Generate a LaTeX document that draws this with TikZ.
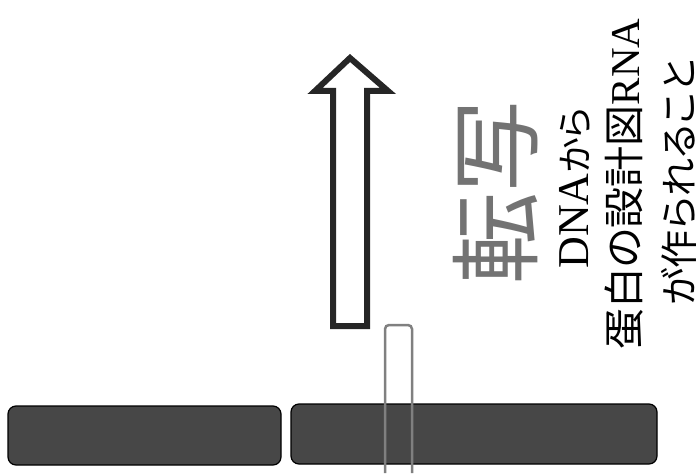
\documentclass[tikz,border=0pt]{standalone}
\usepackage{fontspec}
\setmainfont{Liberation Serif}
\newfontfamily\jp[RawFeature=+palt]{Noto Sans CJK JP}
\begin{document}
\begin{tikzpicture}[x=1pt,y=-1pt,
  bar/.style={draw=black, line width=1.2pt, fill=black!72, rounded corners=8pt, inner sep=0pt},
  strand/.style={draw=black!50, line width=2.5pt, rounded corners=4pt},
  arrowbox/.style={draw=black!85, line width=6pt, fill=white, miter limit=10},
  vtext/.style={rotate=90, inner sep=0pt, anchor=center}]
\useasboundingbox (0,0) rectangle (700,473);
% DNA bars
\node[bar, minimum width=273pt, minimum height=59pt] (barL) at (144.5,435.5) {};
\node[bar, minimum width=366pt, minimum height=60pt] (barR) at (474,434) {};
% strand being read
\draw[strand] (385,473) -- (385,325) -- (412,325) -- (412,473);
% hollow arrow
\draw[arrowbox] (333,326) -- (333,91) -- (315,91) -- (350,58) -- (388,91) -- (367,91) -- (367,326) -- cycle;
% texts
\node[vtext, text=black!55] (tensha) at (496,192) {\jp\fontsize{92}{92}\selectfont 転写};
\node[vtext] (l1) at (575,188) {\fontsize{44}{44}\selectfont DNA\jp\fontsize{36}{36}\selectfont から};
\node[vtext] (l2) at (624,184) {\jp\fontsize{41}{41}\selectfont 蛋白の設計図\rmfamily RNA};
\node[vtext] (l3) at (679,182) {\jp\fontsize{38}{38}\selectfont が作られること};
\end{tikzpicture}
\end{document}
